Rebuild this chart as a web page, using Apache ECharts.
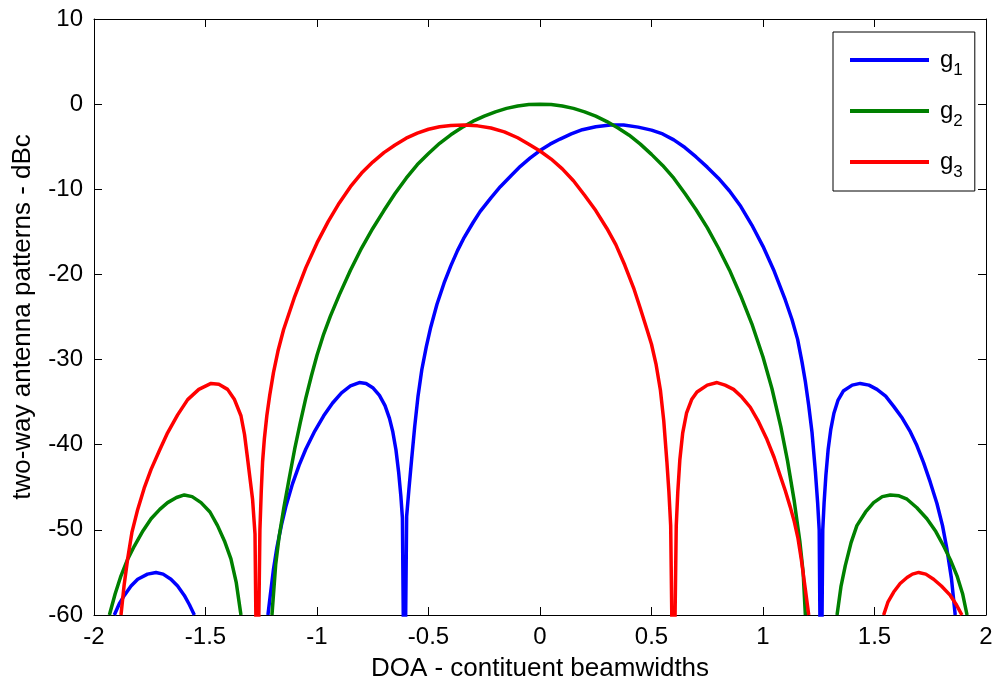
<!DOCTYPE html>
<html>
<head>
<meta charset="utf-8">
<script src="https://cdn.jsdelivr.net/npm/echarts@6/dist/echarts.min.js"></script>
<style>
html,body{margin:0;padding:0;background:#fff;}
#chart{width:997px;height:687px;}
</style>
</head>
<body>
<div id="chart"></div>
<script>
// ---- data ----
const seriesNames = ['g1', 'g2', 'g3'];
const xTicks = [-2, -1.5, -1, -0.5, 0, 0.5, 1, 1.5, 2];
const yTicks = [-60, -50, -40, -30, -20, -10, 0, 10];
const xTitle = 'DOA - contituent beamwidths';
const yTitle = 'two-way antenna patterns - dBc';

// g1 (blue)  [DOA, dBc]; null = curve below -60 dB (outside the plot)
const g1 = [
  [-1.909,-60],[-1.885,-58.6],[-1.864,-57.7],[-1.834,-56.6],[-1.804,-55.8],[-1.76,-55.2],[-1.722,-55.0],[-1.69,-55.2],[-1.655,-55.8],[-1.625,-56.6],[-1.595,-57.7],[-1.572,-58.8],[-1.55,-60],
  [-1.4,null],
  [-1.22,-60],[-1.21,-57.8],[-1.195,-54.6],[-1.18,-52.1],[-1.16,-49.5],[-1.14,-47.3],[-1.11,-44.6],[-1.08,-42.4],[-1.05,-40.5],[-1.01,-38.4],[-0.97,-36.6],[-0.93,-35.1],[-0.89,-33.9],[-0.85,-33.1],[-0.81,-32.7],[-0.78,-32.8],[-0.75,-33.3],[-0.72,-34.2],[-0.695,-35.4],[-0.675,-36.9],[-0.66,-38.5],[-0.646,-40.6],[-0.634,-43.2],[-0.624,-46.0],[-0.617,-48.6],
  [-0.608,-75],
  [-0.598,-48.4],[-0.588,-45.3],[-0.576,-41.8],[-0.562,-37.9],[-0.547,-34.3],[-0.53,-31.2],[-0.51,-28.5],[-0.49,-26.2],[-0.462,-23.5],[-0.43,-21.0],[-0.40,-19.0],[-0.37,-17.2],[-0.343,-15.8],[-0.30,-13.9],[-0.268,-12.6],[-0.22,-11.0],[-0.178,-9.7],[-0.13,-8.4],[-0.088,-7.3],[-0.045,-6.35],[0,-5.45],
  [0.045,-4.7],[0.09,-4.1],[0.14,-3.5],[0.19,-3.0],[0.25,-2.65],[0.315,-2.45],[0.375,-2.45],[0.44,-2.7],[0.50,-3.05],[0.55,-3.5],[0.60,-4.2],[0.65,-5.1],[0.70,-6.2],[0.75,-7.4],[0.80,-8.7],[0.85,-10.2],[0.90,-12.0],[0.95,-14.2],[1.0,-16.7],[1.05,-19.6],[1.10,-23.0],[1.13,-25.3],[1.155,-27.6],[1.175,-30.3],[1.19,-32.6],[1.205,-35.4],[1.22,-38.6],[1.235,-43.2],[1.245,-46.8],[1.252,-50],
  [1.26,-75],
  [1.268,-50],[1.274,-46.8],[1.282,-43.6],[1.292,-40.6],[1.304,-38.2],[1.318,-36.3],[1.336,-34.8],[1.36,-33.7],[1.40,-33.0],[1.436,-32.8],[1.475,-33.0],[1.511,-33.5],[1.55,-34.3],[1.586,-35.5],[1.625,-36.9],[1.661,-38.5],[1.69,-40.1],[1.72,-42.1],[1.75,-44.4],[1.78,-46.9],[1.805,-49.5],[1.825,-52.3],[1.845,-55.7],[1.862,-60]
];

// g2 (green)
const g2 = [
  [-1.931,-60],[-1.905,-57.5],[-1.879,-55.4],[-1.85,-53.5],[-1.819,-51.9],[-1.78,-50.1],[-1.744,-48.7],[-1.705,-47.6],[-1.67,-46.8],[-1.63,-46.2],[-1.595,-45.9],[-1.56,-46.1],[-1.52,-46.8],[-1.48,-47.9],[-1.446,-49.5],[-1.415,-51.3],[-1.386,-53.4],[-1.362,-56.2],[-1.341,-60],
  [-1.27,null],
  [-1.202,-60],[-1.185,-54.0],[-1.17,-50.8],[-1.15,-47.6],[-1.125,-44.0],[-1.1,-40.5],[-1.075,-37.4],[-1.05,-34.5],[-1.025,-31.9],[-1.0,-29.5],[-0.97,-27.0],[-0.94,-24.9],[-0.9,-22.4],[-0.85,-19.5],[-0.8,-16.9],[-0.75,-14.6],[-0.7,-12.5],[-0.65,-10.5],[-0.6,-8.7],[-0.55,-7.1],[-0.5,-5.8],[-0.45,-4.6],[-0.4,-3.6],[-0.35,-2.75],[-0.3,-2.0],[-0.25,-1.4],[-0.2,-0.9],[-0.15,-0.5],[-0.1,-0.22],[-0.05,-0.05],[0,0],
  [0.05,-0.05],[0.1,-0.22],[0.15,-0.5],[0.2,-0.9],[0.25,-1.4],[0.3,-2.05],[0.35,-2.8],[0.4,-3.65],[0.45,-4.7],[0.5,-5.9],[0.55,-7.2],[0.6,-8.7],[0.65,-10.5],[0.7,-12.4],[0.75,-14.5],[0.8,-16.9],[0.85,-19.5],[0.9,-22.5],[0.95,-25.8],[1.0,-29.7],[1.04,-33.4],[1.08,-37.9],[1.11,-41.9],[1.14,-46.6],[1.165,-51.3],[1.18,-55.0],[1.19,-60],
  [1.26,null],
  [1.332,-60],[1.35,-56.6],[1.369,-54.2],[1.395,-51.5],[1.421,-49.5],[1.46,-47.9],[1.496,-46.8],[1.535,-46.1],[1.571,-45.9],[1.61,-46.0],[1.646,-46.4],[1.69,-47.4],[1.735,-48.7],[1.775,-50.2],[1.81,-51.9],[1.84,-53.5],[1.87,-55.4],[1.895,-57.5],[1.915,-60]
];

// g3 (red)
const g3 = [
  [-1.879,-60],[-1.865,-56.5],[-1.849,-53.4],[-1.83,-50.3],[-1.804,-47.6],[-1.775,-45.1],[-1.744,-42.9],[-1.705,-40.6],[-1.67,-38.6],[-1.625,-36.5],[-1.58,-34.7],[-1.53,-33.5],[-1.475,-32.8],[-1.44,-32.9],[-1.401,-33.5],[-1.37,-34.7],[-1.341,-36.6],[-1.325,-38.8],[-1.311,-41.7],[-1.289,-46.4],[-1.278,-50.5],
  [-1.268,-75],
  [-1.256,-50],[-1.25,-45.5],[-1.244,-42.0],[-1.236,-39.3],[-1.225,-36.6],[-1.212,-34.2],[-1.195,-31.5],[-1.175,-29.0],[-1.15,-26.5],[-1.1,-22.6],[-1.05,-19.2],[-1.0,-16.3],[-0.95,-13.8],[-0.9,-11.6],[-0.85,-9.7],[-0.8,-8.1],[-0.75,-6.8],[-0.7,-5.7],[-0.65,-4.8],[-0.6,-4.0],[-0.55,-3.4],[-0.5,-2.95],[-0.45,-2.65],[-0.4,-2.5],[-0.34,-2.45],[-0.28,-2.55],[-0.22,-2.8],[-0.16,-3.25],[-0.1,-3.95],[-0.05,-4.7],[0,-5.5],
  [0.05,-6.45],[0.1,-7.6],[0.15,-9.0],[0.2,-10.7],[0.25,-12.5],[0.3,-14.6],[0.34,-16.5],[0.38,-18.9],[0.42,-21.6],[0.45,-24.0],[0.48,-26.5],[0.50,-28.2],[0.52,-30.5],[0.54,-33.6],[0.555,-37.2],[0.569,-42.0],[0.578,-45.5],[0.586,-49.5],
  [0.598,-75],
  [0.611,-49.5],[0.618,-45.5],[0.627,-41.8],[0.64,-38.6],[0.657,-36.3],[0.68,-34.7],[0.704,-33.8],[0.75,-33.0],[0.794,-32.7],[0.83,-33.0],[0.868,-33.5],[0.905,-34.4],[0.943,-35.6],[0.98,-37.3],[1.018,-39.4],[1.05,-41.5],[1.078,-43.7],[1.1,-45.4],[1.122,-47.3],[1.14,-49.0],[1.157,-51.0],[1.172,-53.5],[1.19,-57.0],[1.205,-60],
  [1.4,null],
  [1.541,-60],[1.56,-58.5],[1.586,-57.3],[1.615,-56.3],[1.646,-55.6],[1.67,-55.2],[1.698,-55.0],[1.73,-55.2],[1.765,-55.8],[1.8,-56.6],[1.84,-57.7],[1.865,-58.7],[1.892,-60]
];

const colors = ['#0000ff', '#008000', '#ff0000'];
const FONT = '"Liberation Sans", Arial, Helvetica, sans-serif';

const chart = echarts.init(document.getElementById('chart'), null, {renderer: 'canvas'});

const axisLine = {show: true, onZero: false, lineStyle: {color: '#000', width: 1}};
const axisTick = {show: true, inside: true, length: 8, lineStyle: {color: '#000', width: 1}};

const xMin = xTicks[0], xMax = xTicks[xTicks.length - 1], xInt = xTicks[1] - xTicks[0];
const yMin = yTicks[0], yMax = yTicks[yTicks.length - 1], yInt = yTicks[1] - yTicks[0];

chart.setOption({
  animation: false,
  backgroundColor: '#fff',
  grid: {left: 94, top: 19, width: 892, height: 597, containLabel: false},
  legend: {
    data: seriesNames,
    orient: 'vertical',
    left: 833, top: 32,
    padding: [16, 12, 10, 17],
    itemGap: 20,
    itemWidth: 79, itemHeight: 4,
    icon: 'rect',
    selectedMode: false,
    backgroundColor: '#fff',
    borderColor: '#000', borderWidth: 1, borderRadius: 0,
    formatter: function (name) { return '{a|g}{b|' + name.slice(1) + '}'; },
    textStyle: {
      fontSize: 24, fontFamily: FONT, color: '#000',
      rich: {
        a: {fontSize: 24, lineHeight: 38, fontFamily: FONT, color: '#000', padding: [0, 0, 0, 6]},
        b: {fontSize: 17, lineHeight: 17, verticalAlign: 'bottom', fontFamily: FONT, color: '#000'}
      }
    }
  },
  xAxis: [
    {type: 'value', position: 'bottom', min: xMin, max: xMax, interval: xInt,
     axisLine: axisLine, axisTick: axisTick, splitLine: {show: false},
     axisLabel: {fontSize: 24, color: '#000', margin: 10, fontFamily: FONT},
     name: xTitle, nameLocation: 'middle', nameGap: 41,
     nameTextStyle: {fontSize: 26, color: '#000', fontFamily: FONT}},
    {type: 'value', position: 'top', min: xMin, max: xMax, interval: xInt,
     axisLine: axisLine, axisTick: axisTick, splitLine: {show: false},
     axisLabel: {show: false}}
  ],
  yAxis: [
    {type: 'value', position: 'left', min: yMin, max: yMax, interval: yInt,
     axisLine: axisLine, axisTick: axisTick, splitLine: {show: false},
     axisLabel: {fontSize: 24, color: '#000', margin: 11, fontFamily: FONT},
     name: yTitle, nameLocation: 'middle', nameGap: 58, nameRotate: 90,
     nameTextStyle: {fontSize: 26, color: '#000', fontFamily: FONT}},
    {type: 'value', position: 'right', min: yMin, max: yMax, interval: yInt,
     axisLine: axisLine, axisTick: axisTick, splitLine: {show: false},
     axisLabel: {show: false}}
  ],
  series: [g1, g2, g3].map(function (d, i) {
    return {
      name: seriesNames[i], type: 'line', data: d,
      xAxisIndex: 0, yAxisIndex: 0,
      symbol: 'none', showSymbol: false, smooth: false,
      connectNulls: false, clip: true,
      color: colors[i],
      lineStyle: {color: colors[i], width: 3.5},
      itemStyle: {color: colors[i]},
      z: 2 + i
    };
  })
});
</script>
</body>
</html>
